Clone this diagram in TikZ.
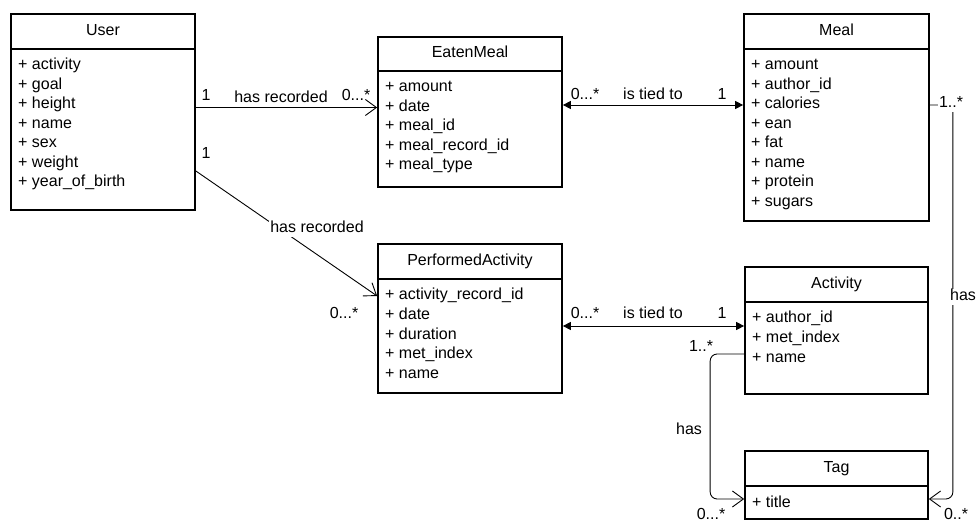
\documentclass[tikz,border=0pt]{standalone}
\usepackage{fontspec}
\setmainfont{Liberation Sans}
\usetikzlibrary{arrows.meta}
\newcommand{\fsz}{\fontsize{16}{18}\selectfont}
\tikzset{
  classbox/.style={draw, line width=1.7pt, inner sep=0pt, rectangle},
  sepline/.style={line width=1.7pt},
  attr/.style={inner sep=0pt, anchor=west, font=\fsz, text height=11pt, text depth=3pt},
  ttl/.style={inner sep=0pt, font=\fsz, text height=11pt, text depth=3pt},
  conn/.style={line width=0.9pt},
  lbl/.style={inner sep=1pt, font=\fsz, text height=11pt, text depth=3pt},
  lblw/.style={lbl, fill=white},
  openarrow/.style={-{Straight Barb[length=11pt,width=16pt,line width=0.9pt]}},
  tied/.style={{Triangle[length=8pt,width=8pt]}-{Triangle[length=8pt,width=8pt]}},
}
\newcommand{\umlclass}[8]{%
  \node[classbox, minimum width=#4pt, minimum height=#5pt] (#1) at ({#2+#4/2},{#3+#5/2}) {};
  \draw[sepline] ({#2},{#3+#6}) -- ({#2+#4},{#3+#6});
  \node[ttl] (#1-t) at ({#2+#4/2},{#3+#6/2}) {#7};
  \foreach \a [count=\i] in {#8} {\node[attr] (#1-a\i) at ({#2+7},{#3+#6+17+(\i-1)*19.5}) {\a};}
}
\begin{document}
\begin{tikzpicture}[x=1pt,y=-1pt]
\useasboundingbox[fill=white] (0,0) rectangle (976,526);

\umlclass{user}{11}{14}{184}{196}{35}{User}{+ activity,+ goal,+ height,+ name,+ sex,+ weight,+ year\_of\_birth}
\umlclass{em}{378}{37}{184}{150}{34}{EatenMeal}{+ amount,+ date,+ meal\_id,+ meal\_record\_id,+ meal\_type}
\umlclass{meal}{744}{14}{185}{207}{35}{Meal}{+ amount,+ author\_id,+ calories,+ ean,+ fat,+ name,+ protein,+ sugars}
\umlclass{pa}{378}{244}{184}{149}{35}{PerformedActivity}{+ activity\_record\_id,+ date,+ duration,+ met\_index,+ name}
\umlclass{act}{745}{267}{183}{127}{35}{Activity}{+ author\_id,+ met\_index,+ name}
\umlclass{tag}{745}{451}{183}{68}{35}{Tag}{+ title}

\coordinate (c2s) at ([yshift=-59pt]user.east);
\coordinate (t2) at ([yshift=4.5pt]act.west);
\coordinate (s5) at ([yshift=-23.5pt]act.west);
\coordinate (e5) at ([yshift=-14pt]tag.west);
\coordinate (e6) at ([yshift=-14pt]tag.east);

\draw[conn, openarrow] (user.east |- em-a2) -- (em.west |- em-a2);
\draw[conn, openarrow] (c2s) -- (pa.west |- pa-a1);
\draw[conn, tied] (em.east |- meal-a3) -- (meal.west |- meal-a3);
\draw[conn, tied] (pa.east |- t2) -- (t2);
\draw[conn, openarrow, rounded corners=7pt] (s5) -- ++(-34,0) |- (e5);
\draw[conn, openarrow, rounded corners=7pt] (meal.east |- meal-a3) -- ++(23,0) |- (e6);

\node[lbl] (l1a) at (206,97) {1};
\node[lbl] (l1b) at (281,99) {has recorded};
\node[lbl] (l1c) at (356,97) {0...*};
\node[lbl] (l2a) at (206,155) {1};
\node[lblw] (l2b) at (317,229) {has recorded};
\node[lbl] (l2c) at (344,314) {0...*};
\node[lbl] (l3a) at (585,96) {0...*};
\node[lbl] (l3b) at (653,96) {is tied to};
\node[lbl] (l3c) at (722,96) {1};
\node[lbl] (l4a) at (585,315) {0...*};
\node[lbl] (l4b) at (653,315) {is tied to};
\node[lbl] (l4c) at (722,315) {1};
\node[lbl] (l5a) at (701,347) {1..*};
\node[lbl] (l5b) at (689,430) {has};
\node[lbl] (l5c) at (711,515) {0...*};
\node[lblw] (l6a) at (951,104) {1..*};
\node[lblw] (l6b) at (963,297) {has};
\node[lbl] (l6c) at (956,515) {0..*};
\end{tikzpicture}
\end{document}
